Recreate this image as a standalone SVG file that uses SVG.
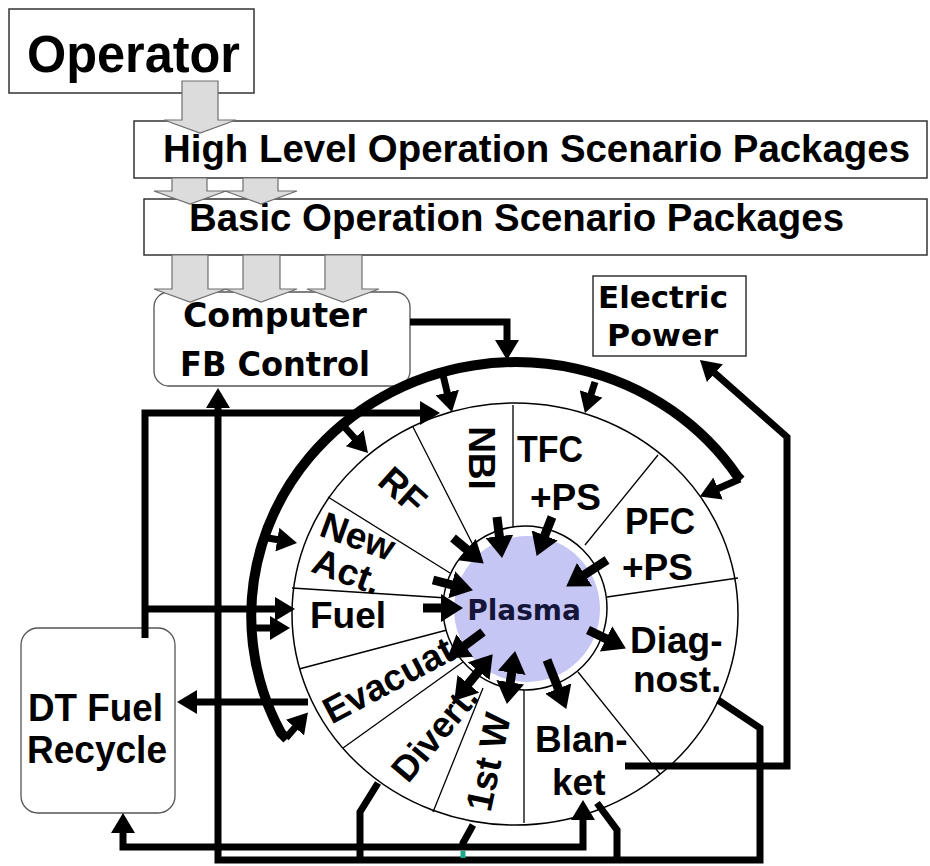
<svg xmlns="http://www.w3.org/2000/svg" width="930" height="866" viewBox="0 0 930 866">
<style>
.box{fill:#fff;stroke:#333;stroke-width:1.5}
.rbox{fill:#fff;stroke:#555;stroke-width:1.3}
.ga{fill:#dcdcdc;stroke:#6e6e6e;stroke-width:1.2}
.t{font-family:"Liberation Sans",Arial,sans-serif;font-weight:bold;fill:#000}
.d{font-family:"DejaVu Sans",Verdana,sans-serif;font-weight:bold;fill:#000}
.c{fill:none;stroke:#000;stroke-width:7;stroke-linejoin:miter}
.p{fill:none;stroke:#000;stroke-width:9}
.thin{fill:none;stroke:#000;stroke-width:1.3}
.a{marker-end:url(#ah)}
.b{marker-start:url(#ah);marker-end:url(#ah)}
.pa{marker-end:url(#ahp)}
.pb{marker-start:url(#ahp);marker-end:url(#ahp)}
</style>
<defs>
<marker id="ah" viewBox="0 0 20 24" markerWidth="20" markerHeight="24" refX="13" refY="12" orient="auto-start-reverse" markerUnits="userSpaceOnUse"><path d="M0,0 L20,12 L0,24 z" fill="#000"/></marker>
<marker id="ahp" viewBox="0 0 22 28" markerWidth="22" markerHeight="28" refX="14" refY="14" orient="auto-start-reverse" markerUnits="userSpaceOnUse"><path d="M0,0 L22,14 L0,28 z" fill="#000"/></marker>
</defs>
<rect width="930" height="866" fill="#fff"/>

<g id="operator"><rect class="box" x="9" y="9" width="245" height="84"/><text class="t" x="27" y="72" font-size="51" textLength="213" lengthAdjust="spacingAndGlyphs">Operator</text></g>
<g id="high-level"><rect class="box" x="134" y="121" width="793" height="57"/><text class="t" x="163" y="162" font-size="39" textLength="747" lengthAdjust="spacingAndGlyphs">High Level Operation Scenario Packages</text></g>
<g id="basic"><rect class="box" x="144" y="199" width="783" height="56"/><text class="t" x="189" y="231" font-size="38" textLength="655" lengthAdjust="spacingAndGlyphs">Basic Operation Scenario Packages</text></g>
<g id="computer"><rect class="rbox" x="154" y="292" width="256" height="94" rx="15"/><text class="d" x="183" y="327" font-size="33" textLength="184" lengthAdjust="spacingAndGlyphs">Computer</text><text class="d" x="180" y="376" font-size="33" textLength="190" lengthAdjust="spacingAndGlyphs">FB Control</text></g>
<g id="electric"><rect class="box" x="593" y="276" width="153" height="80"/><text class="d" x="598" y="308" font-size="31" textLength="130" lengthAdjust="spacingAndGlyphs">Electric</text><text class="d" x="607" y="346" font-size="31" textLength="111" lengthAdjust="spacingAndGlyphs">Power</text></g>
<g id="dt-fuel"><rect class="rbox" x="21" y="628" width="154" height="185" rx="17"/><text class="t" x="28" y="721" font-size="38" textLength="135" lengthAdjust="spacingAndGlyphs">DT Fuel</text><text class="t" x="27" y="763" font-size="38" textLength="140" lengthAdjust="spacingAndGlyphs">Recycle</text></g>

<g id="scenario-arrows">
<polygon class="ga" points="182,81 218,81 218,120 236,120 200,133 164,120 182,120"/>
<polygon class="ga" points="172,178 207,178 207,191 226,191 190,204 154,191 172,191"/>
<polygon class="ga" points="243,178 278,178 278,191 297,191 261,204 225,191 243,191"/>
<polygon class="ga" points="172,255 208,255 208,289 226,289 190,302 154,289 172,289"/>
<polygon class="ga" points="243,255 280,255 280,289 297,289 261,302 225,289 243,289"/>
<polygon class="ga" points="325,255 362,255 362,289 379,289 343,302 307,289 325,289"/>
</g>

<g id="wheel">
<ellipse cx="515" cy="614" rx="223" ry="211" fill="#fff" stroke="#000" stroke-width="1.5"/>
<path class="thin" d="M513,405 L513,528 M413,427 L473,545 M328,497 L450,573 M292,588 L447,598 M299,669 L447,630 M343,748 L463,662 M433,812 L483,688 M524,823 L524,690 M578,672 L660,774 M607,597 L738,578 M585,545 L658,455"/>
<circle cx="525" cy="608" r="82" fill="#fff" stroke="#000" stroke-width="1.5"/>
<circle id="plasma" cx="527" cy="609" r="73" fill="#c6c6f4"/>
<text class="d" x="524" y="620" font-size="28" text-anchor="middle" style="fill:#15153a">Plasma</text>
<text class="t" font-size="37" text-anchor="middle" transform="translate(482,458) rotate(90)" y="13">NBI</text>
<text class="t" font-size="37" x="517" y="462" textLength="66" lengthAdjust="spacingAndGlyphs">TFC</text>
<text class="t" font-size="37" x="530" y="510">+PS</text>
<text class="t" font-size="37" x="625" y="534" textLength="70" lengthAdjust="spacingAndGlyphs">PFC</text>
<text class="t" font-size="37" x="622" y="580">+PS</text>
<text class="t" font-size="37" x="630" y="653">Diag-</text>
<text class="t" font-size="37" x="633" y="692">nost.</text>
<text class="t" font-size="37" x="535" y="752">Blan-</text>
<text class="t" font-size="37" x="552" y="795">ket</text>
<text class="t" font-size="37" text-anchor="middle" transform="translate(488,762) rotate(-78)" y="13">1st W</text>
<text class="t" font-size="36" text-anchor="middle" transform="translate(434,733) rotate(-50)" y="13">Divert.</text>
<text class="t" font-size="37" text-anchor="middle" transform="translate(388,680) rotate(-28)" y="13">Evacuat</text>
<text class="t" font-size="37" x="310" y="628">Fuel</text>
<text class="t" font-size="37" text-anchor="middle" transform="translate(358,536) rotate(20)" y="13">New</text>
<text class="t" font-size="37" text-anchor="middle" transform="translate(347,571) rotate(20)" y="13">Act.</text>
<text class="t" font-size="37" text-anchor="middle" transform="translate(403,490) rotate(42)" y="13">RF</text>
</g>

<g id="connectors">
<path fill="none" stroke="#000" stroke-width="10" d="M287,739 L281,733 A265,254 0 0 1 738,477 L741,480"/>
<path class="c a" d="M410,322 H507 V353"/>
<path class="c a" d="M443,375 L450.3,405.2"/>
<path class="c a" d="M595,382 L587.1,406.3"/>
<path class="c a" d="M340,422 L363.3,447.8"/>
<path class="c a" d="M262,537 L290.1,541.8"/>
<path class="c a" d="M253,628 L283,628"/>
<path class="c a" d="M740,479 L706.2,493.7"/>
<path class="c a" d="M286,738 L303.4,717.7"/>
<path class="c a" d="M145,638 V413 H433"/>
<path class="c a" d="M145,609 H288"/>
<path class="c a" d="M308,702 H184"/>
<path class="c a" d="M718,700 L760,728 V860 H218 V395"/>
<path class="c" d="M378,783 L360,812 V860"/>
<path class="c" d="M597,803 L617,830 V860"/>
<path class="c b" d="M583,807 V847 H123 V820"/>
<path class="c" d="M473,825 L463,843 V847"/>
<path fill="none" stroke="#1aa88a" stroke-width="5" d="M463,851 V858"/>
<path class="c a" d="M625,766 H787 V437 L705.2,364.6"/>
<path class="p pa" d="M497,517 L501.1,550.1"/>
<path class="p pa" d="M552,517 L539.6,548.5"/>
<path class="p pa" d="M453,538 L477.6,558.5"/>
<path class="p pa" d="M433,580 L465.2,588.3"/>
<path class="p pa" d="M423,608 L455,608"/>
<path class="p pa" d="M607,560 L572.9,582.2"/>
<path class="p pa" d="M588,630 L618.7,644.9"/>
<path class="p pa" d="M483,632 L453.6,653.8"/>
<path class="p pb" d="M459.4,694.6 L487.6,660.4"/>
<path class="p pb" d="M508.1,696.1 L513.9,658.9"/>
<path class="p pa" d="M547,660 L563.4,701.5"/>
</g>
</svg>
